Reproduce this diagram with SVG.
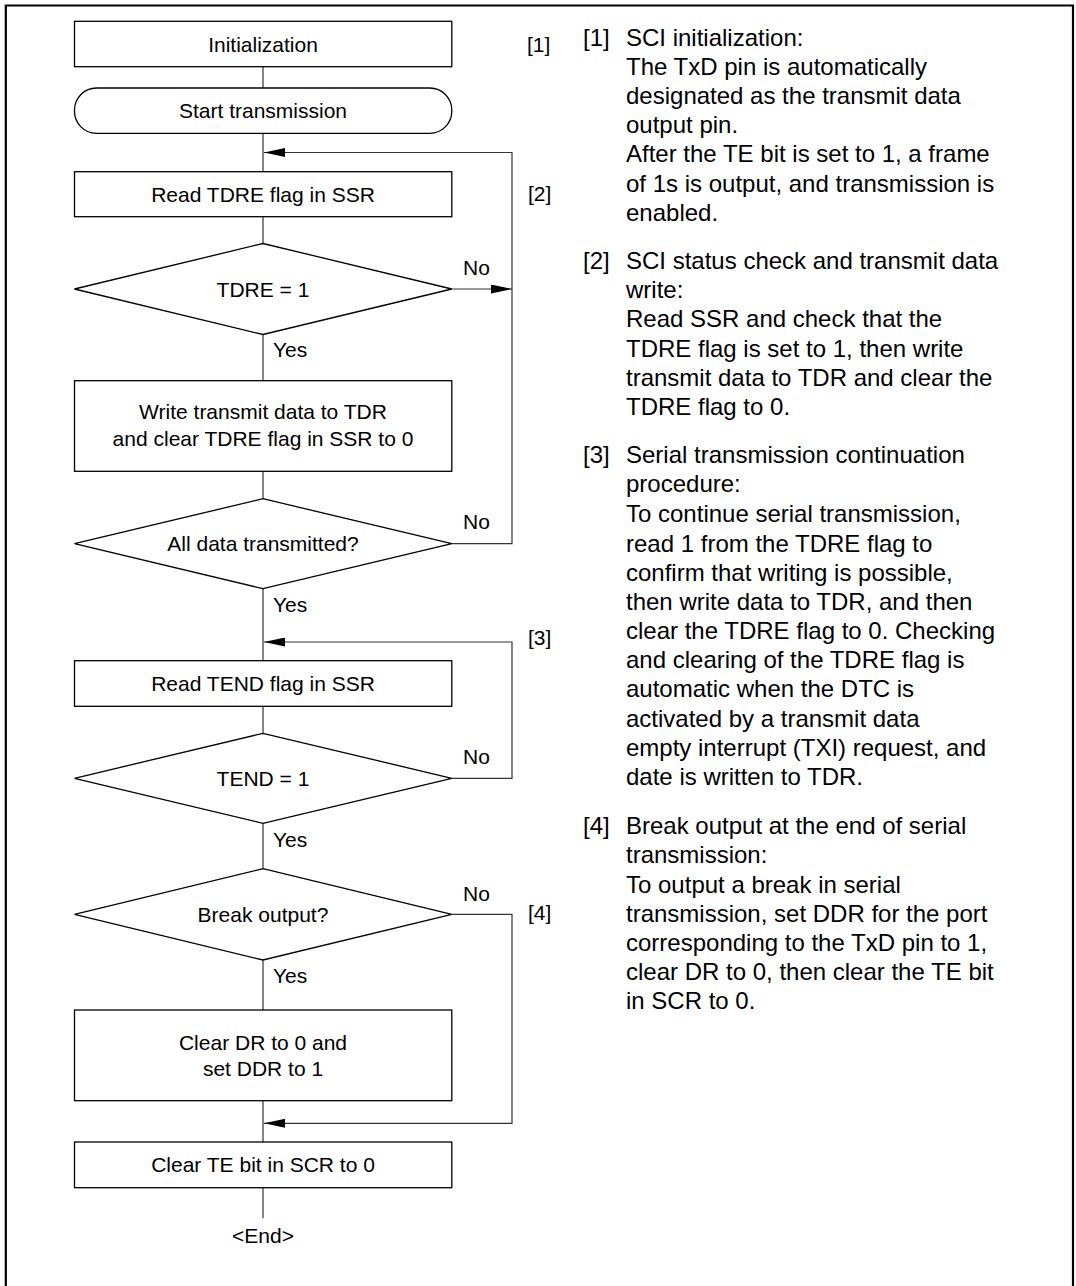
<svg xmlns="http://www.w3.org/2000/svg" width="1076" height="1286" viewBox="0 0 1076 1286">
<defs>
<style>
.box{fill:#fff;stroke:#000;stroke-width:1.3}
.ln{fill:none;stroke:#333;stroke-width:1.2}
.t{font-family:"Liberation Sans",Arial,sans-serif;font-size:21px;fill:#000}
.c{text-anchor:middle}
.r{font-family:"Liberation Sans",Arial,sans-serif;font-size:24px;fill:#000}
</style>
<marker id="arrow" viewBox="0 0 21 9" refX="21" refY="4.5" markerWidth="21" markerHeight="9" orient="auto" markerUnits="userSpaceOnUse">
<path d="M0,0 L21,4.5 L0,9 z" fill="#000"/>
</marker>
</defs>
<rect width="1076" height="1286" fill="#fff"/>
<path d="M5.8,1290 V5.5 H1073 V1290" fill="none" stroke="#000" stroke-width="2.2"/>

<g id="connectors">
<line class="ln" x1="263" y1="66.7" x2="263" y2="88"/>
<line class="ln" x1="263" y1="133.3" x2="263" y2="171.7"/>
<line class="ln" x1="263" y1="216.7" x2="263" y2="243.5"/>
<line class="ln" x1="263" y1="334.5" x2="263" y2="380.7"/>
<line class="ln" x1="263" y1="471.3" x2="263" y2="498.7"/>
<line class="ln" x1="263" y1="588.7" x2="263" y2="660.7"/>
<line class="ln" x1="263" y1="706.3" x2="263" y2="733.3"/>
<line class="ln" x1="263" y1="823.3" x2="263" y2="868.7"/>
<line class="ln" x1="263" y1="960" x2="263" y2="1010"/>
<line class="ln" x1="263" y1="1100.7" x2="263" y2="1142"/>
<line class="ln" x1="263" y1="1187.7" x2="263" y2="1218.3"/>
<path class="ln" d="M451.8,289 H512" marker-end="url(#arrow)"/>
<path class="ln" d="M451.8,543.7 H512 V152.5 H264" marker-end="url(#arrow)"/>
<path class="ln" d="M451.8,778.3 H512 V642 H264" marker-end="url(#arrow)"/>
<path class="ln" d="M451.8,914.3 H512 V1123.3 H264" marker-end="url(#arrow)"/>
<text class="t" x="463" y="275">No</text>
<text class="t" x="273" y="357">Yes</text>
<text class="t" x="463" y="529">No</text>
<text class="t" x="273" y="611.7">Yes</text>
<text class="t" x="463" y="764.3">No</text>
<text class="t" x="273" y="846.7">Yes</text>
<text class="t" x="463" y="901">No</text>
<text class="t" x="273" y="982.7">Yes</text>
</g>

<g id="init">
<rect class="box" x="74.5" y="21.3" width="377.3" height="45.4"/>
<text class="t c" x="263" y="51.5">Initialization</text>
</g>
<g id="start">
<rect class="box" x="74.5" y="88" width="377.3" height="45.3" rx="22" ry="22"/>
<text class="t c" x="263" y="118.2">Start transmission</text>
</g>
<g id="read-tdre">
<rect class="box" x="74.5" y="171.7" width="377.3" height="45"/>
<text class="t c" x="263" y="201.7">Read TDRE flag in SSR</text>
</g>
<g id="tdre-check">
<polygon class="box" points="74.5,289 263,243.5 451.8,289 263,334.5"/>
<text class="t c" x="263" y="296.5">TDRE = 1</text>
</g>
<g id="write-tdr">
<rect class="box" x="74.5" y="380.7" width="377.3" height="90.6"/>
<text class="t c" x="263" y="419.3">Write transmit data to TDR</text>
<text class="t c" x="263" y="445.7">and clear TDRE flag in SSR to 0</text>
</g>
<g id="all-data">
<polygon class="box" points="74.5,543.7 263,498.7 451.8,543.7 263,588.7"/>
<text class="t c" x="263" y="551.2">All data transmitted?</text>
</g>
<g id="read-tend">
<rect class="box" x="74.5" y="660.7" width="377.3" height="45.6"/>
<text class="t c" x="263" y="691">Read TEND flag in SSR</text>
</g>
<g id="tend-check">
<polygon class="box" points="74.5,778.3 263,733.3 451.8,778.3 263,823.3"/>
<text class="t c" x="263" y="785.8">TEND = 1</text>
</g>
<g id="break-check">
<polygon class="box" points="74.5,914.3 263,868.7 451.8,914.3 263,960"/>
<text class="t c" x="263" y="921.8">Break output?</text>
</g>
<g id="clear-dr">
<rect class="box" x="74.5" y="1010" width="377.3" height="90.7"/>
<text class="t c" x="263" y="1050">Clear DR to 0 and</text>
<text class="t c" x="263" y="1075.7">set DDR to 1</text>
</g>
<g id="clear-te">
<rect class="box" x="74.5" y="1142" width="377.3" height="45.7"/>
<text class="t c" x="263" y="1172">Clear TE bit in SCR to 0</text>
</g>
<g id="end">
<text class="t c" x="263" y="1242.7">&lt;End&gt;</text>
</g>

<g id="step-labels">
<text class="t" x="527" y="52">[1]</text>
<text class="t" x="528" y="201">[2]</text>
<text class="t" x="528" y="645">[3]</text>
<text class="t" x="528" y="920">[4]</text>
</g>

<g id="notes">
<text class="r" x="583" y="45.7">[1]</text>
<text class="r" x="626" y="45.7">SCI initialization:</text>
<text class="r" x="626" y="75">The TxD pin is automatically</text>
<text class="r" x="626" y="104">designated as the transmit data</text>
<text class="r" x="626" y="132.7">output pin.</text>
<text class="r" x="626" y="162.3">After the TE bit is set to 1, a frame</text>
<text class="r" x="626" y="191.7">of 1s is output, and transmission is</text>
<text class="r" x="626" y="220.7">enabled.</text>
<text class="r" x="583" y="269.3">[2]</text>
<text class="r" x="626" y="269.3">SCI status check and transmit data</text>
<text class="r" x="626" y="298.3">write:</text>
<text class="r" x="626" y="327.3">Read SSR and check that the</text>
<text class="r" x="626" y="356.7">TDRE flag is set to 1, then write</text>
<text class="r" x="626" y="385.7">transmit data to TDR and clear the</text>
<text class="r" x="626" y="415">TDRE flag to 0.</text>
<text class="r" x="583" y="463.3">[3]</text>
<text class="r" x="626" y="463.3">Serial transmission continuation</text>
<text class="r" x="626" y="492.3">procedure:</text>
<text class="r" x="626" y="521.7">To continue serial transmission,</text>
<text class="r" x="626" y="552.3">read 1 from the TDRE flag to</text>
<text class="r" x="626" y="581">confirm that writing is possible,</text>
<text class="r" x="626" y="610">then write data to TDR, and then</text>
<text class="r" x="626" y="639">clear the TDRE flag to 0. Checking</text>
<text class="r" x="626" y="668.3">and clearing of the TDRE flag is</text>
<text class="r" x="626" y="697.3">automatic when the DTC is</text>
<text class="r" x="626" y="726.7">activated by a transmit data</text>
<text class="r" x="626" y="756">empty interrupt (TXI) request, and</text>
<text class="r" x="626" y="785">date is written to TDR.</text>
<text class="r" x="583" y="834.3">[4]</text>
<text class="r" x="626" y="834.3">Break output at the end of serial</text>
<text class="r" x="626" y="863.3">transmission:</text>
<text class="r" x="626" y="892.7">To output a break in serial</text>
<text class="r" x="626" y="921.7">transmission, set DDR for the port</text>
<text class="r" x="626" y="951">corresponding to the TxD pin to 1,</text>
<text class="r" x="626" y="980">clear DR to 0, then clear the TE bit</text>
<text class="r" x="626" y="1009.3">in SCR to 0.</text>
</g>
</svg>
